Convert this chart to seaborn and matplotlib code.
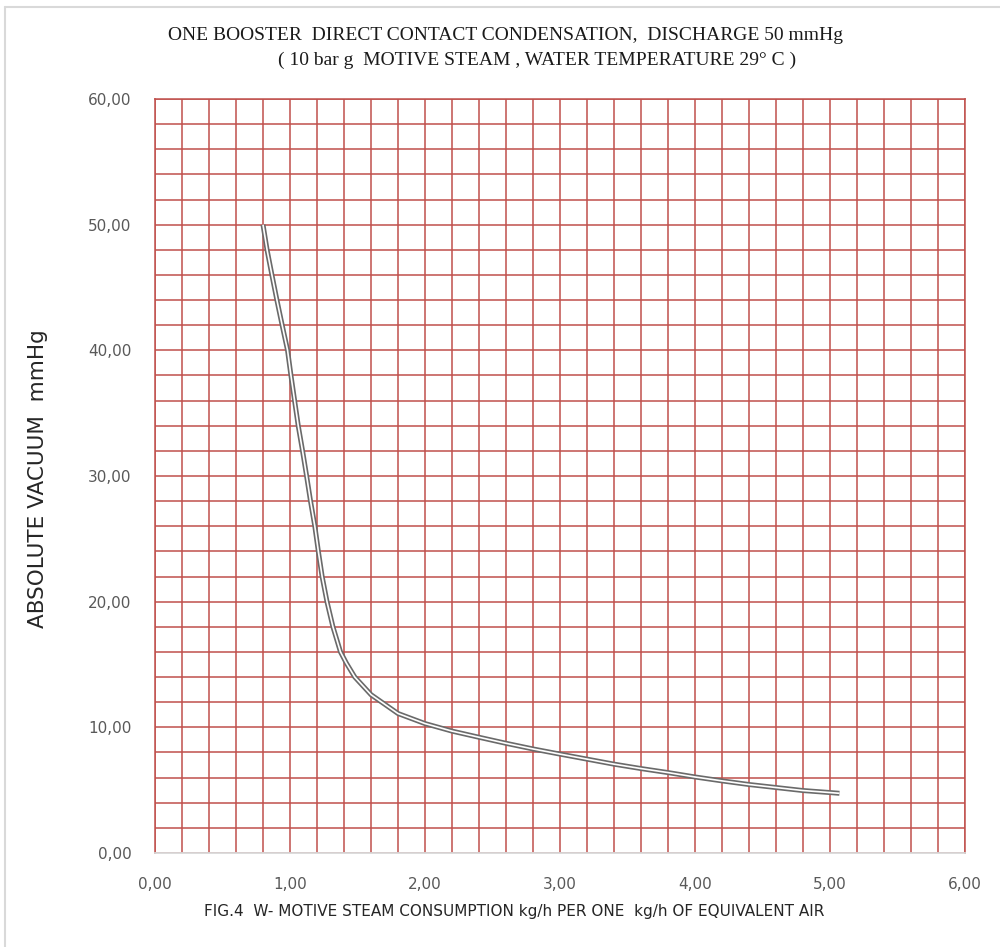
import matplotlib
matplotlib.use("Agg")
import matplotlib.pyplot as plt
import seaborn as sns
import pandas as pd
from matplotlib.ticker import FuncFormatter, MultipleLocator
from matplotlib.lines import Line2D

# Data
steam_consumption = [0.800, 0.830, 0.866, 0.903, 0.942, 0.982, 1.007, 1.034, 1.061,
                     1.093, 1.123, 1.152, 1.184, 1.210, 1.238, 1.274, 1.318, 1.374,
                     1.418, 1.480, 1.600, 1.800, 2.000, 2.200, 2.400, 2.600, 2.800,
                     3.000, 3.200, 3.400, 3.600, 3.800, 4.000, 4.200, 4.400, 4.600,
                     4.800, 5.000, 5.070]
absolute_vacuum = [50.0, 48.0, 46.0, 44.0, 42.0, 40.0, 38.0, 36.0, 34.0,
                   32.0, 30.0, 28.0, 26.0, 24.0, 22.0, 20.0, 18.0, 16.0,
                   15.1, 14.0, 12.6, 11.1, 10.3, 9.70, 9.21, 8.73, 8.28,
                   7.87, 7.47, 7.07, 6.72, 6.40, 6.05, 5.74, 5.45, 5.21,
                   4.97, 4.81, 4.75]

title_line1 = "ONE BOOSTER  DIRECT CONTACT CONDENSATION,  DISCHARGE 50 mmHg"
title_line2 = "( 10 bar g  MOTIVE STEAM , WATER TEMPERATURE 29° C )"
x_label = "FIG.4  W- MOTIVE STEAM CONSUMPTION kg/h PER ONE  kg/h OF EQUIVALENT AIR"
y_label = "ABSOLUTE VACUUM  mmHg"

df = pd.DataFrame({"x": steam_consumption, "y": absolute_vacuum})

sns.set_theme(style="white")
plt.rcParams["font.family"] = ["DejaVu Sans"]

W, H = 1000, 947
fig = plt.figure(figsize=(W / 100, H / 100), dpi=100)
ax = fig.add_axes([155 / W, (H - 853) / H, 810 / W, (853 - 99) / H])

red = "#C0504D"
ax.set_xlim(0, 6)
ax.set_ylim(0, 60)
ax.xaxis.set_major_locator(MultipleLocator(1))
ax.xaxis.set_minor_locator(MultipleLocator(0.2))
ax.yaxis.set_major_locator(MultipleLocator(10))
ax.yaxis.set_minor_locator(MultipleLocator(2))
ax.grid(True, which="both", color=red, linewidth=1.3, alpha=0.85)
ax.set_axisbelow(True)

fmt = FuncFormatter(lambda v, p: f"{v:.2f}".replace(".", ","))
ax.xaxis.set_major_formatter(fmt)
ax.yaxis.set_major_formatter(fmt)
ax.tick_params(axis="both", which="both", length=0, labelsize=11, labelcolor="#595959")
ax.tick_params(axis="y", pad=17)
ax.tick_params(axis="x", pad=17)

for s in ["left", "top", "right"]:
    ax.spines[s].set_color(red)
    ax.spines[s].set_linewidth(1.3)
    ax.spines[s].set_alpha(0.85)
ax.spines["bottom"].set_color("#D9D9D9")
ax.spines["bottom"].set_linewidth(1.3)

# Double line effect
sns.lineplot(data=df, x="x", y="y", ax=ax, color="#6a6a6a", linewidth=3.6,
             sort=False, estimator=None, zorder=3, solid_joinstyle="round",
             solid_capstyle="butt")
sns.lineplot(data=df, x="x", y="y", ax=ax, color="white", linewidth=1.2,
             sort=False, estimator=None, zorder=4, solid_joinstyle="round",
             solid_capstyle="butt")

ax.set_xlabel("")
ax.set_ylabel("")

fig.text(38 / W, 1 - 479 / H, y_label, rotation=90, ha="center", va="center",
         fontsize=15.5, color="#262626")
fig.text(514 / W, 1 - 911 / H, x_label, ha="center", va="center",
         fontsize=11, color="#262626")
fig.text(505 / W, 1 - 36 / H, title_line1, ha="center", va="center",
         fontsize=14, color="#1a1a1a", family=["Liberation Serif", "DejaVu Serif"])
fig.text(537 / W, 1 - 60 / H, title_line2, ha="center", va="center",
         fontsize=14, color="#1a1a1a", family=["Liberation Serif", "DejaVu Serif"])

# light frame around chart area
fig.add_artist(Line2D([5 / W, 5 / W], [0, 1 - 7 / H], transform=fig.transFigure,
                      color="#D9D9D9", linewidth=1.5))
fig.add_artist(Line2D([5 / W, 1], [1 - 7 / H, 1 - 7 / H], transform=fig.transFigure,
                      color="#D9D9D9", linewidth=1.5))

fig.savefig("out.png", dpi=100)
